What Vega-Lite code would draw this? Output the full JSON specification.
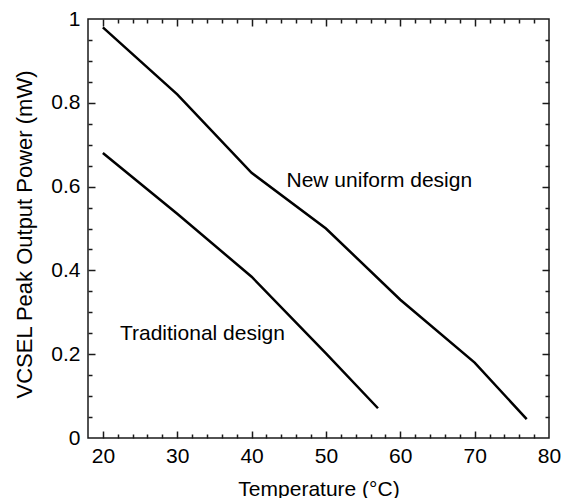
{
  "$schema": "https://vega.github.io/schema/vega-lite/v6.json",
  "width": 461,
  "height": 419,
  "autosize": {"type": "none"},
  "padding": {"left": 88, "top": 19, "right": 19, "bottom": 60},
  "background": "white",
  "config": {
    "font": "Liberation Sans",
    "view": {"stroke": "#1a1a1a", "strokeWidth": 1.5},
    "axis": {
      "grid": false,
      "domain": false,
      "labelFont": "Liberation Sans",
      "labelFontSize": 21,
      "labelColor": "black",
      "labelOverlap": false,
      "labelFlush": false,
      "titleFont": "Liberation Sans",
      "titleFontSize": 21,
      "titleFontWeight": "normal",
      "titleColor": "black",
      "tickColor": "#1a1a1a",
      "tickWidth": 1.5
    }
  },
  "datasets": {
    "curves": [
      {"design": "New uniform design", "temp": 20, "power": 0.98},
      {"design": "New uniform design", "temp": 30, "power": 0.82},
      {"design": "New uniform design", "temp": 40, "power": 0.633},
      {"design": "New uniform design", "temp": 50, "power": 0.5},
      {"design": "New uniform design", "temp": 60, "power": 0.33},
      {"design": "New uniform design", "temp": 70, "power": 0.18},
      {"design": "New uniform design", "temp": 77, "power": 0.045},
      {"design": "Traditional design", "temp": 20, "power": 0.68},
      {"design": "Traditional design", "temp": 30, "power": 0.535},
      {"design": "Traditional design", "temp": 40, "power": 0.385},
      {"design": "Traditional design", "temp": 50, "power": 0.202},
      {"design": "Traditional design", "temp": 57, "power": 0.071}
    ],
    "notes": [
      {"label": "New uniform design", "temp": 44.7, "power": 0.599},
      {"label": "Traditional design", "temp": 22.3, "power": 0.234}
    ]
  },
  "layer": [
    {
      "data": {"name": "curves"},
      "transform": [{"filter": "datum.design === 'New uniform design'"}],
      "mark": {"type": "line", "color": "black", "strokeWidth": 2.5},
      "encoding": {
        "x": {
          "field": "temp",
          "type": "quantitative",
          "scale": {"domain": [18, 80], "nice": false, "zero": false},
          "axis": {
            "orient": "bottom",
            "title": "Temperature (°C)",
            "values": [20, 30, 40, 50, 60, 70, 80],
            "ticks": false,
            "format": "d",
            "labelPadding": 7,
            "titlePadding": 12
          }
        },
        "y": {
          "field": "power",
          "type": "quantitative",
          "scale": {"domain": [0, 1], "nice": false},
          "axis": {
            "orient": "left",
            "title": "VCSEL Peak Output Power (mW)",
            "titleFontSize": 22,
            "titleY": 215,
            "values": [0, 0.2, 0.4, 0.6, 0.8, 1],
            "ticks": false,
            "format": ".1~f",
            "labelPadding": 8,
            "titlePadding": 14
          }
        }
      }
    },
    {
      "data": {"name": "curves"},
      "transform": [{"filter": "datum.design === 'Traditional design'"}],
      "mark": {"type": "line", "color": "black", "strokeWidth": 2.5},
      "encoding": {
        "x": {
          "field": "temp",
          "type": "quantitative",
          "axis": {
            "orient": "top",
            "offset": -419,
            "title": null,
            "labels": false,
            "values": [20, 22, 24, 26, 28, 30, 32, 34, 36, 38, 40, 42, 44, 46, 48, 50, 52, 54, 56, 58, 60, 62, 64, 66, 68, 70, 72, 74, 76, 78],
            "tickSize": {"condition": {"test": "datum.value % 10 === 0", "value": 7}, "value": 4}
          }
        },
        "y": {
          "field": "power",
          "type": "quantitative",
          "axis": {
            "orient": "right",
            "offset": -461,
            "title": null,
            "labels": false,
            "values": [0.05, 0.1, 0.15, 0.2, 0.25, 0.3, 0.35, 0.4, 0.45, 0.5, 0.55, 0.6, 0.65, 0.7, 0.75, 0.8, 0.85, 0.9, 0.95],
            "tickSize": {"condition": {"test": "abs(datum.value * 5 - round(datum.value * 5)) < 1e-6", "value": 7}, "value": 4}
          }
        }
      }
    },
    {
      "data": {"name": "notes"},
      "mark": {"type": "text", "align": "left", "baseline": "alphabetic", "fontSize": 21, "font": "Liberation Sans", "color": "black"},
      "encoding": {
        "x": {
          "field": "temp",
          "type": "quantitative",
          "axis": {
            "orient": "bottom",
            "offset": -419,
            "title": null,
            "labels": false,
            "values": [20, 22, 24, 26, 28, 30, 32, 34, 36, 38, 40, 42, 44, 46, 48, 50, 52, 54, 56, 58, 60, 62, 64, 66, 68, 70, 72, 74, 76, 78],
            "tickSize": {"condition": {"test": "datum.value % 10 === 0", "value": 7}, "value": 4}
          }
        },
        "y": {
          "field": "power",
          "type": "quantitative",
          "axis": {
            "orient": "left",
            "offset": -461,
            "title": null,
            "labels": false,
            "values": [0.05, 0.1, 0.15, 0.2, 0.25, 0.3, 0.35, 0.4, 0.45, 0.5, 0.55, 0.6, 0.65, 0.7, 0.75, 0.8, 0.85, 0.9, 0.95],
            "tickSize": {"condition": {"test": "abs(datum.value * 5 - round(datum.value * 5)) < 1e-6", "value": 7}, "value": 4}
          }
        },
        "text": {"field": "label"}
      }
    }
  ],
  "resolve": {"axis": {"x": "independent", "y": "independent"}}
}
